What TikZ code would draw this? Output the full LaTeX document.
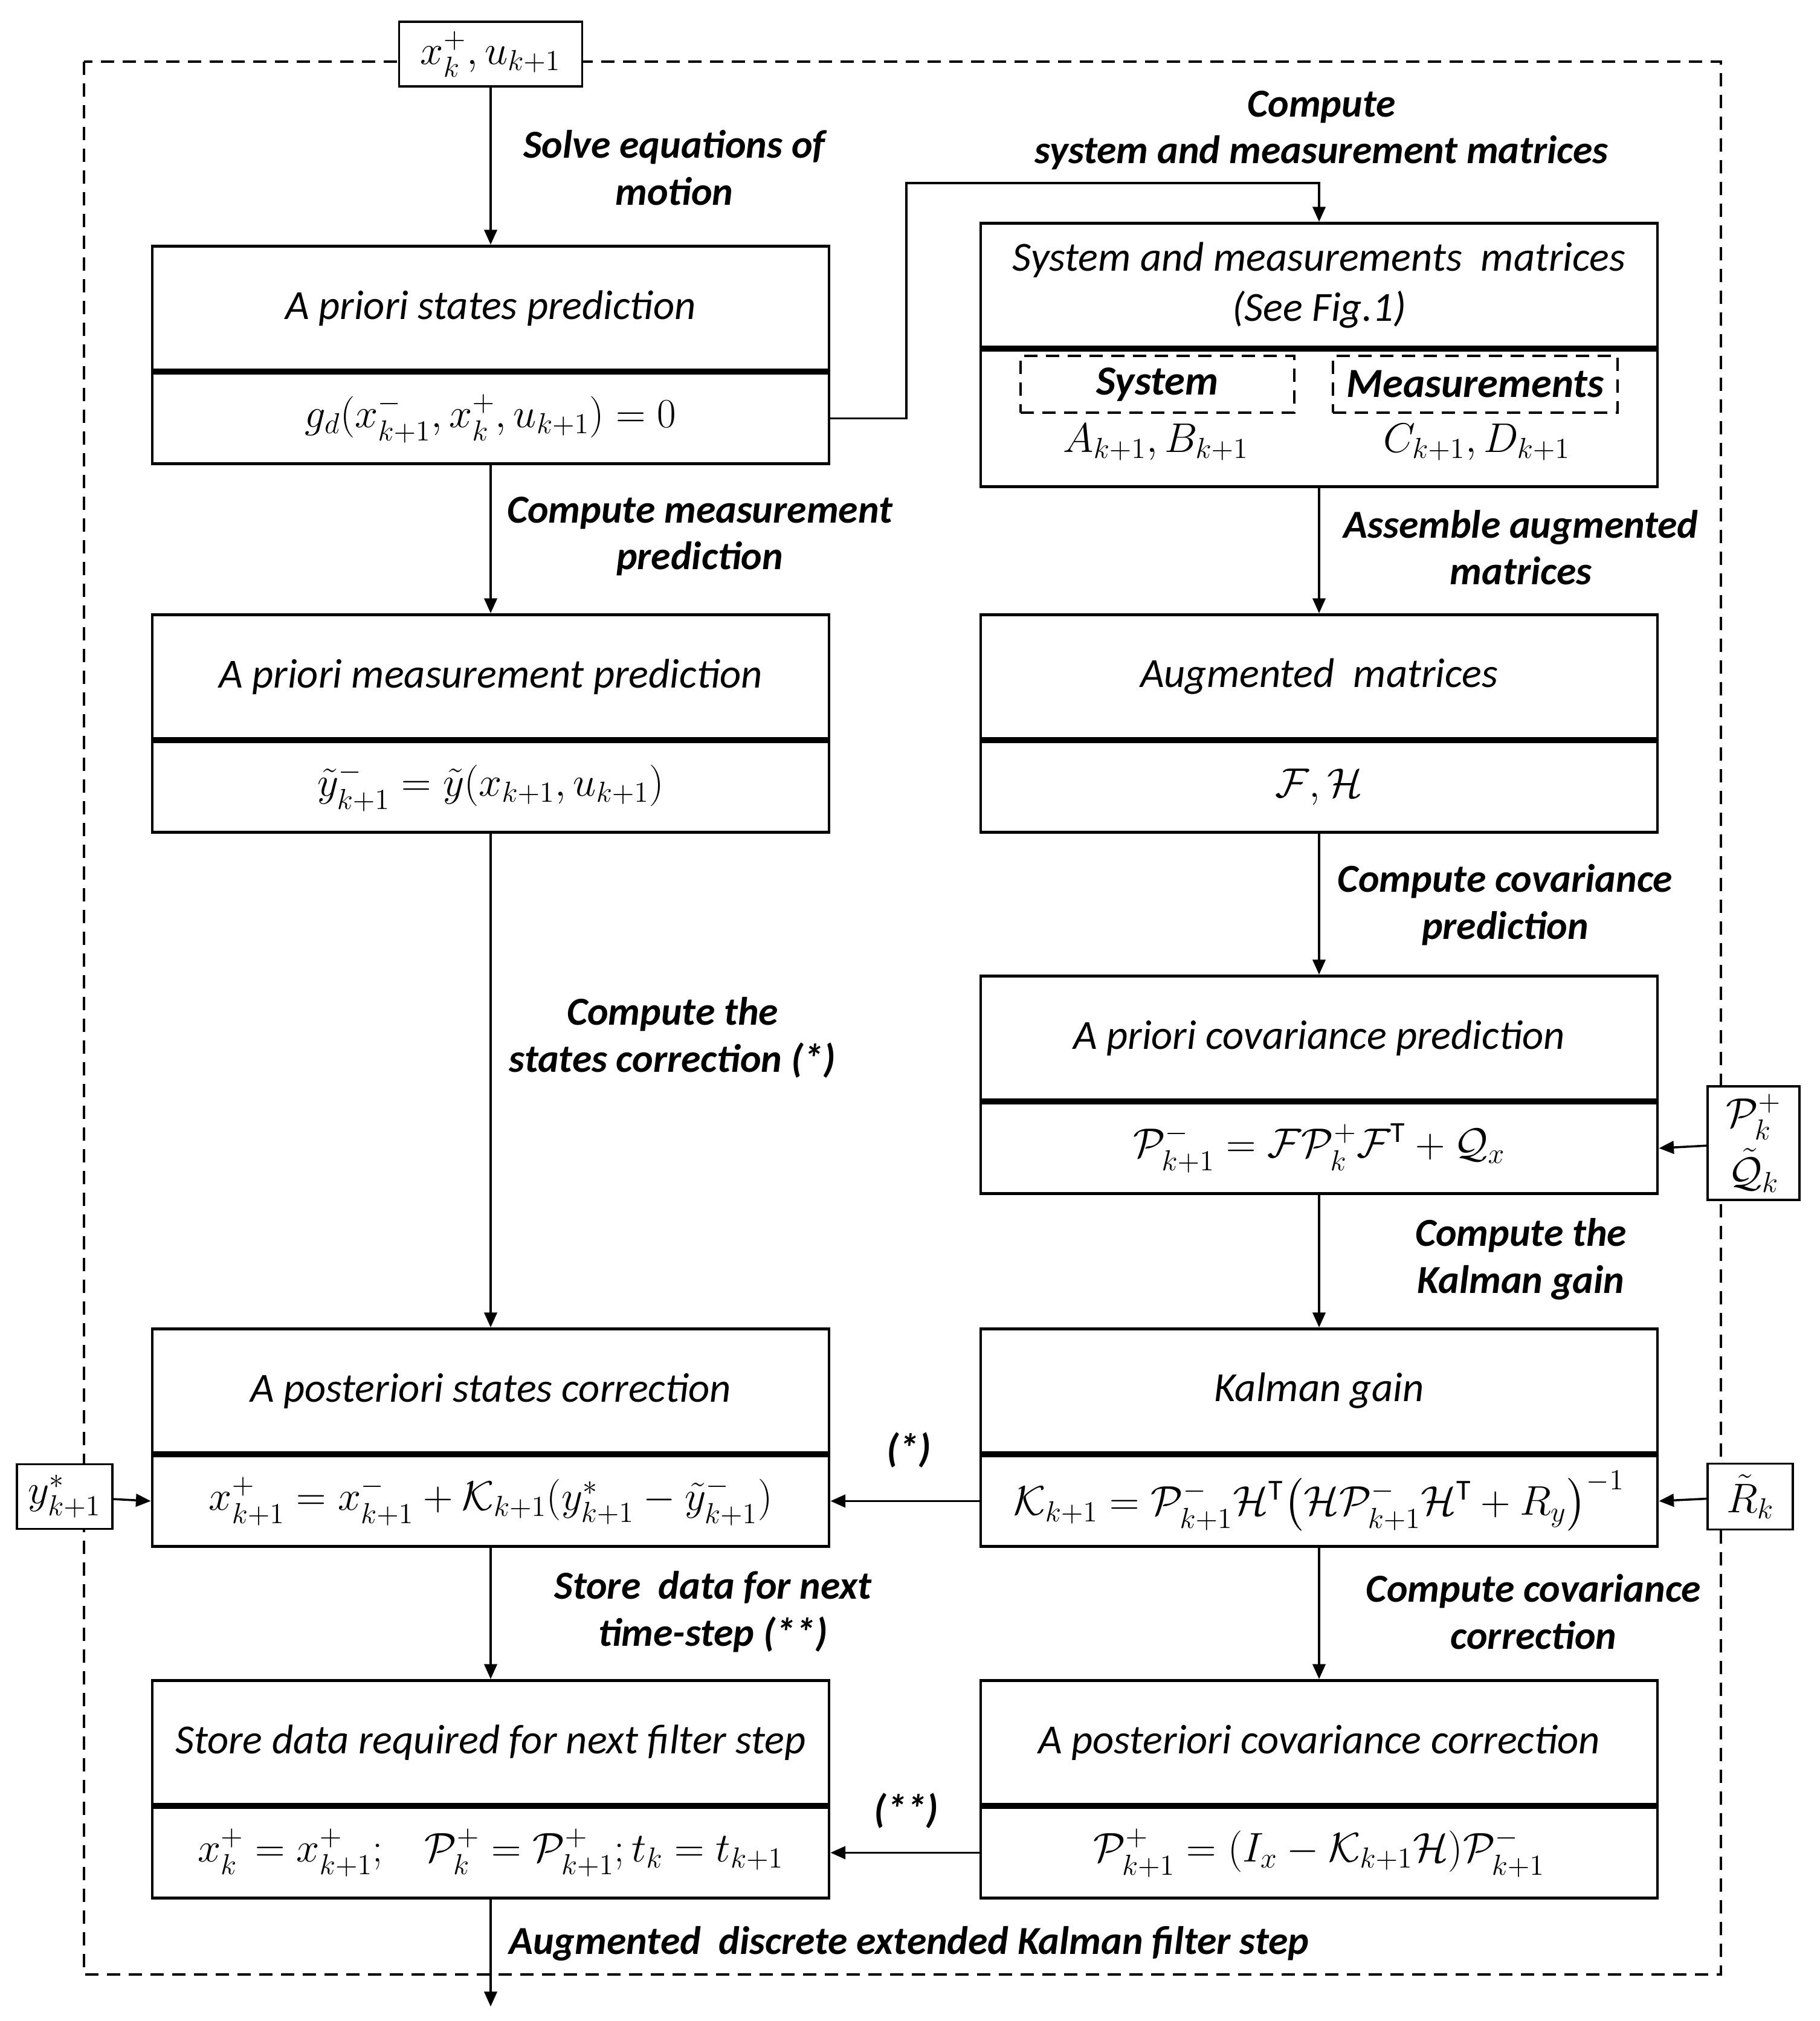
\documentclass[tikz,border=0pt]{standalone}
\usepackage{fix-cm}
\usepackage{amsmath}
\usepackage{fontspec}
\setmainfont{Carlito}
\usetikzlibrary{positioning,arrows.meta}

\tikzset{
  big/.style={font=\fontsize{19.5}{23.5}\selectfont},
  titlebox/.style={draw, line width=1.4pt, fill=white, anchor=north, align=center,
    minimum width=11.2cm, minimum height=2.05cm, font=\fontsize{19.5}{23.5}\selectfont\itshape},
  eqbox/.style={draw, line width=1.4pt, fill=white, anchor=north,
    minimum width=11.2cm, minimum height=1.5cm, font=\fontsize{19.5}{23.5}\selectfont},
  iobox/.style={draw, line width=1pt, fill=white, align=center, inner sep=2pt,
    font=\fontsize{19.5}{23.5}\selectfont},
  subbox/.style={draw, line width=1pt, dash pattern=on 0.22cm off 0.14cm,
    minimum height=0.94cm, font=\fontsize{19.5}{23.5}\selectfont\bfseries\itshape},
  flowlabel/.style={align=center, font=\fontsize{18.7}{22}\selectfont\bfseries\itshape},
  flow/.style={->, line width=1pt},
  >={Triangle[length=7pt,width=6pt]}
}

\begin{document}
\begin{tikzpicture}
        \useasboundingbox (0,0) rectangle (30.12,-33.45);

        % Filter step frame
        \draw[line width=1pt, dash pattern=on 0.22cm off 0.14cm] (1.39,-1.02) rectangle (28.48,-32.68);

        % Left column
        \node[titlebox] (states) at (8.12,-4.05) {A priori states prediction};
        \node[eqbox] (stateseq) at (states.south) {$g_d(x^-_{k+1}, x^+_k, u_{k+1}) = 0$};
        \node[titlebox] (meas) at (8.12,-10.15) {A priori measurement prediction};
        \node[eqbox] (measeq) at (meas.south) {$\tilde{y}^-_{k+1} = \tilde{y}(x_{k+1}, u_{k+1})$};
        \node[titlebox] (corr) at (8.12,-21.97) {A posteriori states correction};
        \node[eqbox] (correq) at (corr.south) {$x^+_{k+1} = x^-_{k+1} + \mathcal{K}_{k+1}(y^*_{k+1} - \tilde{y}^-_{k+1})$};
        \node[titlebox] (store) at (8.12,-27.79) {Store data required for next filter step};
        \node[eqbox] (storeeq) at (store.south) {$x^+_k = x^+_{k+1};\;\;\; \mathcal{P}^+_k = \mathcal{P}^+_{k+1}; t_k = t_{k+1}$};

        % Right column
        \node[titlebox] (sysmat) at (21.83,-3.67) {System and measurements~~matrices\\(See Fig.1)};
        \node[eqbox, minimum height=2.26cm] (sysmateq) at (sysmat.south) {};
        \node[subbox, minimum width=4.53cm] (sysbox) at (19.155,-6.36) {System};
        \node[subbox, minimum width=4.71cm] (measbox) at (24.415,-6.36) {Measurements};
        \node[big] (absys) at (19.13,-7.32) {$A_{k+1}, B_{k+1}$};
        \node[big] (cdmeas) at (24.44,-7.32) {$C_{k+1}, D_{k+1}$};
        \node[titlebox] (augm) at (21.83,-10.15) {Augmented~~matrices};
        \node[eqbox] (augmeq) at (augm.south) {$\mathcal{F}, \mathcal{H}$};
        \node[titlebox] (covp) at (21.83,-16.13) {A priori covariance prediction};
        \node[eqbox] (covpeq) at (covp.south) {$\mathcal{P}^-_{k+1} = \mathcal{F}\mathcal{P}^+_k\mathcal{F}^{\mathrm{T}} + \mathcal{Q}_x$};
        \node[titlebox] (gain) at (21.83,-21.97) {Kalman gain};
        \node[eqbox] (gaineq) at (gain.south) {$\mathcal{K}_{k+1} = \mathcal{P}^-_{k+1}\mathcal{H}^{\mathrm{T}}\bigl(\mathcal{H}\mathcal{P}^-_{k+1}\mathcal{H}^{\mathrm{T}} + R_y\bigr)^{-1}$};
        \node[titlebox] (covc) at (21.83,-27.79) {A posteriori covariance correction};
        \node[eqbox] (covceq) at (covc.south) {$\mathcal{P}^+_{k+1} = (I_x - \mathcal{K}_{k+1}\mathcal{H})\mathcal{P}^-_{k+1}$};

        % Inputs and output
        \node[iobox, minimum width=3.03cm, minimum height=1.07cm] (xin) at (8.12,-0.895) {$x^+_k, u_{k+1}$};
        \node[iobox, minimum width=1.58cm, minimum height=1.07cm] (yin) at (1.07,-24.77) {$y^*_{k+1}$};
        \node[iobox, minimum width=1.52cm, minimum height=1.88cm, inner sep=1pt] (pq) at (29.02,-18.92) {$\mathcal{P}^+_k$\\[3pt]$\tilde{\mathcal{Q}}_k$};
        \node[iobox, minimum width=1.41cm, minimum height=1.09cm] (rin) at (28.965,-24.77) {$\tilde{R}_k$};
        \coordinate (out) at (8.12,-33.21);

        % Connectors
        \draw[flow] (xin) -- (states);
        \draw[flow] (stateseq) -- (meas);
        \draw[flow] (measeq) -- (corr);
        \draw[flow] (correq) -- (store);
        \draw[flow] (storeeq) -- (out);
        \draw[flow] (stateseq.east) -| (15,-3.03) -| (sysmat.north);
        \draw[flow] (sysmateq) -- (augm);
        \draw[flow] (augmeq) -- (covp);
        \draw[flow] (covpeq) -- (gain);
        \draw[flow] (gaineq) -- (covc);
        \draw[flow] (gaineq.west) -- (correq.east);
        \draw[flow] (covceq.west) -- (storeeq.east);
        \draw[flow] (yin) -- (correq.west);
        \draw[flow] (pq) -- (covpeq.east);
        \draw[flow] (rin) -- (gaineq.east);

        % Step labels
        \node[flowlabel] (lsolve) at (11.16,-2.775) {Solve equations of\\motion};
        \node[flowlabel] (lsys) at (21.87,-2.155) {Compute\\system and measurement matrices};
        \node[flowlabel] (lmeas) at (11.58,-8.875) {Compute measurement\\prediction};
        \node[flowlabel] (lcorr) at (11.13,-17.175) {Compute the\\states correction (*)};
        \node[flowlabel] (lassem) at (25.17,-9.065) {Assemble augmented\\matrices};
        \node[flowlabel] (lcovp) at (24.91,-14.975) {Compute covariance\\prediction};
        \node[flowlabel] (lgain) at (25.17,-20.84) {Compute the\\Kalman gain};
        \node[flowlabel] (lstar) at (15.04,-24.0) {(*)};
        \node[flowlabel] (lstore) at (11.80,-26.675) {Store~~data for next\\time-step (**)};
        \node[flowlabel] (lcovc) at (25.38,-26.675) {Compute covariance\\correction};
        \node[flowlabel] (lstars) at (15.0,-29.97) {(**)};
        \node[flowlabel, anchor=west] (lekf) at (8.30,-32.17) {Augmented~~discrete extended Kalman filter step};
\end{tikzpicture}
\end{document}
